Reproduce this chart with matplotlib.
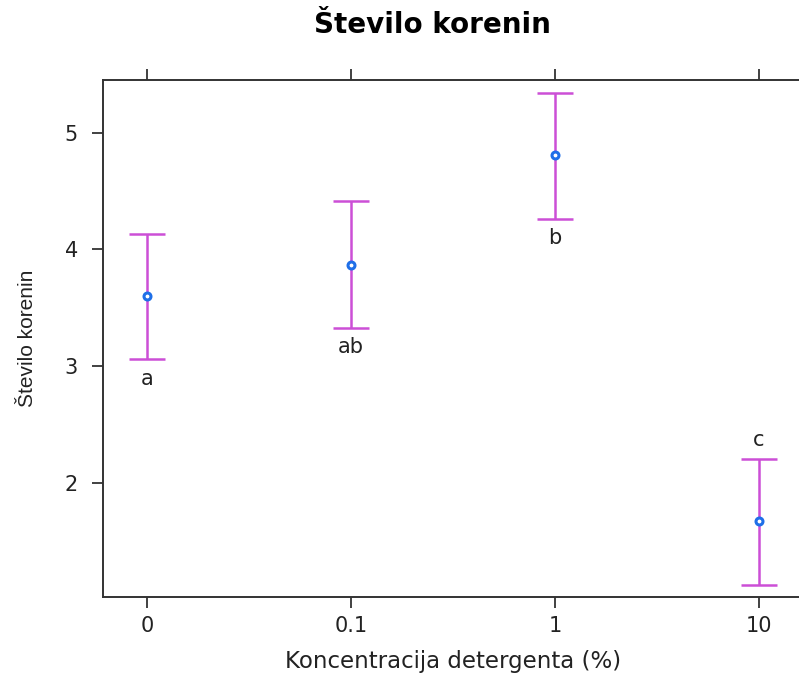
import matplotlib
matplotlib.use("Agg")
import matplotlib.pyplot as plt

# data
konc = ["0", "0.1", "1", "10"]
povprecje = [3.60, 3.87, 4.81, 1.68]
spodaj = [3.06, 3.33, 4.26, 1.13]
zgoraj = [4.13, 4.41, 5.34, 2.21]
crke = ["a", "ab", "b", "c"]
crke_nad = [False, False, False, True]

plt.rcParams['font.family'] = ['DejaVu Sans']

fig = plt.figure(figsize=(7.99, 6.75), dpi=100)
ax = fig.add_axes([0.129, 0.1156, 0.876, 0.766])

x = list(range(len(konc)))
err_lo = [m - s for m, s in zip(povprecje, spodaj)]
err_hi = [z - m for m, z in zip(povprecje, zgoraj)]
ax.errorbar(x, povprecje, yerr=[err_lo, err_hi], fmt='none',
            ecolor='#cc4fd6', elinewidth=1.8, capsize=13, capthick=1.8, zorder=2)
ax.plot(x, povprecje, 'o', ms=5, mfc='white', mec='#1f6fe8', mew=2.2, zorder=3)

for xi, s, z, c, nad in zip(x, spodaj, zgoraj, crke, crke_nad):
    if nad:
        ax.text(xi, z + 0.07, c, ha='center', va='bottom', fontsize=15, color='#222222')
    else:
        ax.text(xi, s - 0.08, c, ha='center', va='top', fontsize=15, color='#222222')

ax.set_xlim(-0.216, 3.216)
ax.set_ylim(1.026, 5.45)
ax.set_xticks(x)
ax.set_xticklabels(konc)
ax.set_yticks([2, 3, 4, 5])
ax.tick_params(axis='both', direction='out', length=8, width=1.3,
               labelsize=15, colors='#333333', labelcolor='#222222',
               top=True, right=False, labeltop=False)
ax.tick_params(axis='x', pad=6)
ax.tick_params(axis='y', pad=10)
for sp in ax.spines.values():
    sp.set_linewidth(1.4)
    sp.set_color('#333333')

ax.set_xlabel("Koncentracija detergenta (%)", fontsize=16.5, labelpad=10, color='#222222')
ax.set_ylabel("Število korenin", fontsize=15, labelpad=20, color='#222222',
              family=['Liberation Sans', 'DejaVu Sans'])
fig.suptitle("Število korenin", x=0.541, y=0.984, fontsize=20, fontweight='bold')

fig.savefig("out.png", dpi=100)
